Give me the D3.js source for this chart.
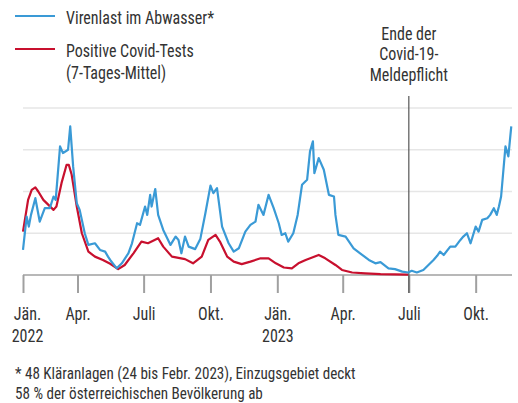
<!DOCTYPE html>
<html>
<head>
<meta charset="utf-8">
<script src="https://cdn.jsdelivr.net/npm/d3@7"></script>
<style>
  body { margin: 0; background: #fff; }
  svg text { font-family: "Roboto Condensed", "Liberation Sans Narrow", "DejaVu Sans Condensed", sans-serif; font-stretch: condensed; fill: #333; }
</style>
</head>
<body>
<div id="chart"></div>
<script>
// Virenlast im Abwasser (relative units)
const blueDates = ["2022-01-16","2022-01-21","2022-01-24","2022-01-27","2022-02-02","2022-02-08","2022-02-15","2022-02-22","2022-02-27","2022-03-02","2022-03-08","2022-03-12","2022-03-19","2022-03-22","2022-03-26","2022-03-31","2022-04-04","2022-04-11","2022-04-16","2022-04-25","2022-05-02","2022-05-09","2022-05-13","2022-05-16","2022-05-25","2022-06-01","2022-06-10","2022-06-15","2022-06-22","2022-06-26","2022-07-03","2022-07-06","2022-07-10","2022-07-12","2022-07-17","2022-07-21","2022-07-28","2022-08-07","2022-08-14","2022-08-18","2022-08-22","2022-08-27","2022-09-01","2022-09-10","2022-09-17","2022-09-24","2022-10-01","2022-10-05","2022-10-10","2022-10-17","2022-10-26","2022-11-02","2022-11-09","2022-11-18","2022-11-25","2022-12-02","2022-12-06","2022-12-13","2022-12-20","2022-12-27","2023-01-03","2023-01-07","2023-01-12","2023-01-16","2023-01-23","2023-01-29","2023-02-04","2023-02-11","2023-02-15","2023-02-19","2023-02-21","2023-02-27","2023-03-06","2023-03-13","2023-03-20","2023-03-22","2023-03-26","2023-04-05","2023-04-16","2023-04-25","2023-05-07","2023-05-16","2023-05-23","2023-06-03","2023-06-12","2023-06-22","2023-06-30","2023-07-05","2023-07-12","2023-07-21","2023-07-28","2023-08-04","2023-08-09","2023-08-13","2023-08-18","2023-08-27","2023-09-03","2023-09-10","2023-09-14","2023-09-19","2023-09-24","2023-10-01","2023-10-05","2023-10-10","2023-10-17","2023-10-21","2023-10-26","2023-10-30","2023-11-02","2023-11-05","2023-11-11","2023-11-15","2023-11-19"];
const blueValues = [0.6,1.4,1.16,1.44,1.84,1.28,1.6,1.6,1.88,1.8,3.08,2.92,3.0,3.56,2.6,1.72,1.56,1.0,0.72,0.76,0.6,0.56,0.44,0.36,0.16,0.28,0.52,0.76,1.24,1.2,1.64,1.44,1.92,1.64,2.06,1.44,1.08,0.72,0.92,0.84,0.52,0.92,0.68,0.62,0.86,1.48,2.14,1.96,2.08,1.16,0.76,0.56,0.64,1.04,1.2,1.28,1.68,1.44,1.92,1.6,1.24,0.96,1.0,0.8,1.0,1.44,2.16,2.28,2.96,3.2,2.44,2.8,2.52,1.92,1.88,1.44,0.96,0.92,0.64,0.52,0.36,0.28,0.31,0.16,0.14,0.08,0.06,0.1,0.06,0.12,0.24,0.36,0.46,0.56,0.48,0.68,0.68,0.84,0.92,1.0,0.76,1.16,1.04,1.32,1.36,1.44,1.6,1.44,1.64,1.88,3.08,2.84,3.56];

// Positive Covid-Tests, 7-Tages-Mittel
const redDates = ["2022-01-16","2022-01-23","2022-01-28","2022-02-02","2022-02-06","2022-02-13","2022-02-20","2022-02-27","2022-03-03","2022-03-10","2022-03-17","2022-03-20","2022-03-24","2022-03-31","2022-04-07","2022-04-16","2022-04-25","2022-05-06","2022-05-16","2022-05-27","2022-06-05","2022-06-17","2022-06-28","2022-07-07","2022-07-21","2022-07-28","2022-08-09","2022-08-27","2022-09-07","2022-09-19","2022-09-28","2022-10-08","2022-10-14","2022-10-24","2022-11-02","2022-11-13","2022-11-25","2022-12-09","2022-12-20","2022-12-30","2023-01-10","2023-01-21","2023-01-30","2023-02-09","2023-02-18","2023-02-27","2023-03-08","2023-03-22","2023-03-31","2023-04-14","2023-05-02","2023-05-23","2023-06-30"];
const redValues = [1.04,1.8,2.04,2.1,2.0,1.8,1.68,1.56,1.64,2.2,2.64,2.64,2.4,1.64,1.0,0.56,0.44,0.36,0.27,0.14,0.24,0.52,0.8,0.76,0.88,0.68,0.44,0.38,0.28,0.44,0.84,0.96,0.8,0.44,0.32,0.26,0.32,0.4,0.4,0.28,0.18,0.16,0.28,0.36,0.42,0.48,0.4,0.24,0.12,0.06,0.04,0.02,0.01];

const tickDates = ["2022-01-16","2022-04-01","2022-07-01","2022-10-01","2023-01-01","2023-04-01","2023-07-01","2023-10-01"];
const tickLabels = [["Jän.","2022"],["Apr."],["Juli"],["Okt."],["Jän.","2023"],["Apr."],["Juli"],["Okt."]];
const gridValues = [1, 2, 3, 4];
const endDate = "2023-11-20";
const meldepflichtDate = "2023-07-01";

const parse = d3.timeParse("%Y-%m-%d");
const blue = blueDates.map((d, i) => ({ date: parse(d), value: blueValues[i] }));
const red = redDates.map((d, i) => ({ date: parse(d), value: redValues[i] }));

const width = 518, height = 403;
const margin = { top: 108, left: 23, bottom: 128, right: 6 };
const squeeze = 0.89;

const svg = d3.select("#chart").append("svg")
  .attr("width", width)
  .attr("height", height);

// condensed multi-line text block
function addText(parent, tx, ty, lines, size, lead, anchor) {
  const g = parent.append("g").attr("transform", `translate(${tx},${ty}) scale(${squeeze},1)`);
  const t = g.append("text").style("font-size", size + "px").attr("text-anchor", anchor || "start");
  lines.forEach((s, i) => t.append("tspan").attr("x", 0).attr("y", i * lead).text(s));
  return g;
}

const x = d3.scaleTime()
  .domain([parse(blueDates[0]), parse(endDate)])
  .range([margin.left, width - margin.right]);

const y = d3.scaleLinear()
  .domain([0, 4])
  .range([height - margin.bottom, margin.top]);

// grid
svg.append("g").selectAll("line").data(gridValues).enter().append("line")
  .attr("x1", margin.left).attr("x2", width - margin.right)
  .attr("y1", d => y(d)).attr("y2", d => y(d))
  .attr("stroke", "#e6e6e6").attr("stroke-width", 1.6);

// x axis
const xAxis = d3.axisBottom(x)
  .tickValues(tickDates.map(parse))
  .tickSize(18)
  .tickFormat("");
const ax = svg.append("g")
  .attr("transform", `translate(0,${y(0)})`)
  .call(xAxis);
ax.select(".domain").attr("stroke", "#a0a0a0").attr("stroke-width", 1.5)
  .attr("d", `M${margin.left},0H${width - margin.right}`);
ax.selectAll(".tick line").attr("stroke", "#a0a0a0").attr("stroke-width", 2);

ax.selectAll(".tick").each(function(d, i) {
  addText(d3.select(this), i === 0 ? 4 : 0, 45, tickLabels[i], 18, 22, "middle");
});

// Meldepflicht line
svg.append("line")
  .attr("x1", x(parse(meldepflichtDate))).attr("x2", x(parse(meldepflichtDate)))
  .attr("y1", 96).attr("y2", y(0) + 18)
  .attr("stroke", "#555").attr("stroke-width", 1.2);

addText(svg, x(parse(meldepflichtDate)), 40, ["Ende der", "Covid-19-", "Meldepflicht"], 18, 20.5, "middle");

const line = d3.line()
  .x(d => x(d.date))
  .y(d => y(d.value));

svg.append("path").datum(red)
  .attr("fill", "none").attr("stroke", "#c8102e").attr("stroke-width", 2.2)
  .attr("stroke-linejoin", "round")
  .attr("d", line);

svg.append("path").datum(blue)
  .attr("fill", "none").attr("stroke", "#3a9ad6").attr("stroke-width", 2.2)
  .attr("stroke-linejoin", "round")
  .attr("d", line);

// legend
const legend = [
  { color: "#3a9ad6", lines: ["Virenlast im Abwasser*"], y: 16 },
  { color: "#c8102e", lines: ["Positive Covid-Tests", "(7-Tages-Mittel)"], y: 49 }
];
legend.forEach(l => {
  svg.append("line")
    .attr("x1", 15).attr("x2", 55)
    .attr("y1", l.y).attr("y2", l.y)
    .attr("stroke", l.color).attr("stroke-width", 2.2);
  addText(svg, 66, l.y + 8, l.lines, 18, 22);
});

// footnote
addText(svg, 15, 379, ["* 48 Kläranlagen (24 bis Febr. 2023), Einzugsgebiet deckt",
  "58 % der österreichischen Bevölkerung ab"], 17, 20);
</script>
</body>
</html>
